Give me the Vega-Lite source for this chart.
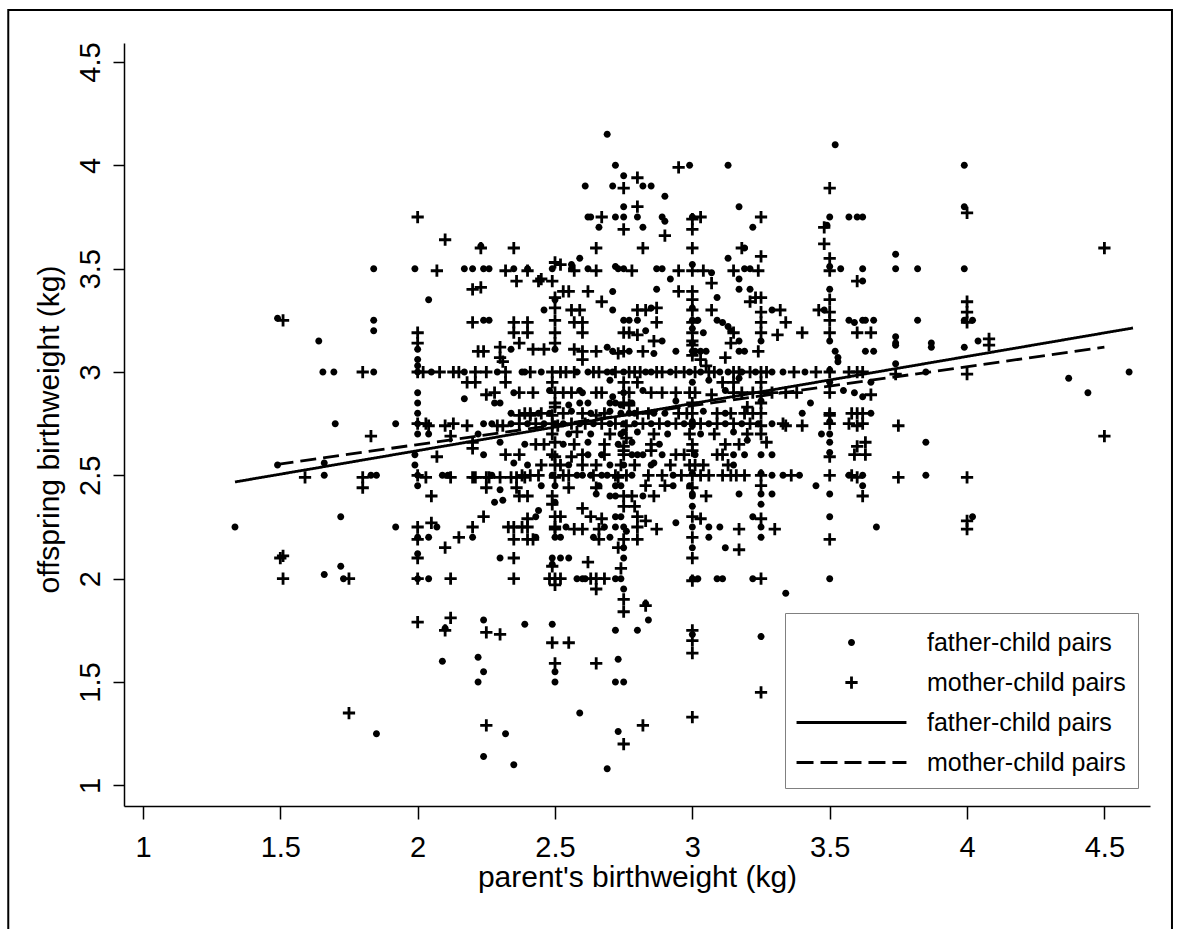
{
"$schema":"https://vega.github.io/schema/vega-lite/v6.json",
"width":1026,"height":763,
"autosize":{"type":"none"},
"padding":{"left":124,"top":43,"right":29,"bottom":123},
"background":"white",
"config":{"view":{"stroke":null},"font":"Liberation Sans"},
"datasets":{
"pts":[
{"g":"F","x":1.335,"y":2.25},{"g":"F","x":1.49,"y":3.26},{"g":"M","x":1.51,"y":3.25},{"g":"F","x":1.49,"y":2.55},{"g":"M","x":1.5,"y":2.1},{"g":"M","x":1.51,"y":2.11},{"g":"M","x":1.51,"y":2.0},{"g":"M","x":1.59,"y":2.49},{"g":"F","x":1.64,"y":3.15},{"g":"F","x":1.655,"y":3.0},{"g":"F","x":1.695,"y":3.0},{"g":"F","x":1.66,"y":2.56},{"g":"F","x":1.66,"y":2.5},{"g":"F","x":1.66,"y":2.02},{"g":"F","x":1.7,"y":2.75},{"g":"F","x":1.72,"y":2.3},{"g":"F","x":1.72,"y":2.06},{"g":"F","x":1.73,"y":2.0},{"g":"M","x":1.75,"y":2.0},{"g":"M","x":1.75,"y":1.35},{"g":"M","x":1.8,"y":3.0},{"g":"F","x":1.84,"y":3.0},{"g":"F","x":1.84,"y":3.5},{"g":"F","x":1.84,"y":3.25},{"g":"F","x":1.84,"y":3.2},{"g":"M","x":1.83,"y":2.69},{"g":"M","x":1.8,"y":2.49},{"g":"M","x":1.8,"y":2.44},{"g":"F","x":1.83,"y":2.5},{"g":"F","x":1.85,"y":2.5},{"g":"F","x":1.85,"y":1.25},{"g":"F","x":1.92,"y":2.75},{"g":"F","x":1.92,"y":2.25},{"g":"F","x":1.99,"y":3.5},
{"g":"M","x":2.0,"y":3.75},{"g":"M","x":2.0,"y":3.19},{"g":"M","x":2.0,"y":3.14},{"g":"F","x":2.0,"y":3.11},{"g":"F","x":2.0,"y":3.06},{"g":"F","x":2.0,"y":3.03},{"g":"M","x":2.0,"y":3.0},{"g":"F","x":2.0,"y":3.0},{"g":"F","x":2.0,"y":2.9},{"g":"F","x":2.0,"y":2.85},{"g":"F","x":2.0,"y":2.8},{"g":"M","x":2.0,"y":2.75},{"g":"F","x":2.0,"y":2.75},{"g":"F","x":2.0,"y":2.7},{"g":"F","x":1.99,"y":2.6},{"g":"F","x":1.99,"y":2.55},{"g":"M","x":2.0,"y":2.5},{"g":"F","x":2.0,"y":2.5},{"g":"F","x":2.0,"y":2.45},{"g":"M","x":2.0,"y":2.25},{"g":"F","x":2.0,"y":2.2},{"g":"M","x":2.0,"y":2.19},{"g":"M","x":2.0,"y":2.1},{"g":"F","x":2.0,"y":2.12},{"g":"M","x":2.0,"y":2.0},{"g":"F","x":2.0,"y":2.0},{"g":"M","x":2.0,"y":1.79},
{"g":"M","x":2.1,"y":3.64},{"g":"M","x":2.23,"y":3.6},{"g":"F","x":2.23,"y":3.61},{"g":"M","x":2.35,"y":3.6},{"g":"M","x":2.07,"y":3.49},{"g":"F","x":2.17,"y":3.5},{"g":"F","x":2.2,"y":3.5},{"g":"F","x":2.24,"y":3.5},{"g":"F","x":2.26,"y":3.5},{"g":"M","x":2.32,"y":3.49},{"g":"F","x":2.35,"y":3.5},{"g":"F","x":2.4,"y":3.5},{"g":"M","x":2.36,"y":3.44},{"g":"M","x":2.2,"y":3.4},{"g":"M","x":2.23,"y":3.41},{"g":"F","x":2.04,"y":3.35},{"g":"M","x":2.2,"y":3.24},{"g":"F","x":2.24,"y":3.25},{"g":"F","x":2.26,"y":3.25},{"g":"M","x":2.35,"y":3.24},{"g":"M","x":2.4,"y":3.24},{"g":"M","x":2.35,"y":3.19},{"g":"M","x":2.4,"y":3.19},{"g":"M","x":2.37,"y":3.14},{"g":"F","x":2.34,"y":3.11},{"g":"M","x":2.22,"y":3.1},{"g":"M","x":2.24,"y":3.1},{"g":"M","x":2.3,"y":3.12},{"g":"M","x":2.3,"y":3.07},{"g":"M","x":2.31,"y":3.05},
{"g":"M","x":2.02,"y":3.0},{"g":"F","x":2.05,"y":3.0},{"g":"M","x":2.08,"y":3.0},{"g":"M","x":2.13,"y":3.0},{"g":"M","x":2.15,"y":3.0},{"g":"F","x":2.17,"y":3.0},{"g":"M","x":2.21,"y":3.0},{"g":"M","x":2.25,"y":3.0},{"g":"F","x":2.29,"y":3.0},{"g":"M","x":2.32,"y":3.0},{"g":"F","x":2.39,"y":3.0},{"g":"M","x":2.41,"y":3.0},{"g":"M","x":2.18,"y":2.95},{"g":"M","x":2.21,"y":2.95},{"g":"M","x":2.32,"y":2.95},{"g":"F","x":2.17,"y":2.87},{"g":"M","x":2.25,"y":2.89},{"g":"M","x":2.28,"y":2.9},{"g":"F","x":2.28,"y":2.85},{"g":"F","x":2.35,"y":2.9},{"g":"M","x":2.37,"y":2.9},{"g":"F","x":2.34,"y":2.8},{"g":"M","x":2.37,"y":2.79},{"g":"M","x":2.41,"y":2.79},{"g":"M","x":2.39,"y":2.8},{"g":"F","x":2.44,"y":2.8},
{"g":"M","x":2.04,"y":2.74},{"g":"M","x":2.1,"y":2.74},{"g":"M","x":2.13,"y":2.75},{"g":"M","x":2.18,"y":2.74},{"g":"F","x":2.24,"y":2.75},{"g":"F","x":2.27,"y":2.75},{"g":"M","x":2.29,"y":2.74},{"g":"M","x":2.31,"y":2.74},{"g":"F","x":2.34,"y":2.75},{"g":"M","x":2.37,"y":2.75},{"g":"M","x":2.03,"y":2.75},{"g":"F","x":2.04,"y":2.7},{"g":"M","x":2.12,"y":2.69},{"g":"F","x":2.22,"y":2.7},{"g":"F","x":2.3,"y":2.66},{"g":"M","x":2.2,"y":2.63},{"g":"M","x":2.07,"y":2.59},{"g":"F","x":2.24,"y":2.6},{"g":"M","x":2.32,"y":2.6},{"g":"M","x":2.37,"y":2.6},{"g":"F","x":2.35,"y":2.56},{"g":"M","x":2.2,"y":2.66},{"g":"F","x":2.39,"y":2.65},
{"g":"F","x":2.09,"y":2.5},{"g":"F","x":2.11,"y":2.5},{"g":"M","x":2.12,"y":2.49},{"g":"M","x":2.2,"y":2.49},{"g":"M","x":2.21,"y":2.49},{"g":"M","x":2.25,"y":2.49},{"g":"M","x":2.26,"y":2.49},{"g":"F","x":2.27,"y":2.5},{"g":"M","x":2.3,"y":2.49},{"g":"M","x":2.34,"y":2.49},{"g":"M","x":2.36,"y":2.49},{"g":"M","x":2.39,"y":2.49},{"g":"M","x":2.03,"y":2.49},{"g":"M","x":2.25,"y":2.44},{"g":"F","x":2.3,"y":2.43},{"g":"M","x":2.36,"y":2.44},{"g":"M","x":2.37,"y":2.4},{"g":"M","x":2.4,"y":2.4},{"g":"M","x":2.05,"y":2.4},{"g":"F","x":2.28,"y":2.37},{"g":"F","x":2.31,"y":2.38},{"g":"M","x":2.24,"y":2.3},{"g":"M","x":2.05,"y":2.27},{"g":"F","x":2.07,"y":2.25},{"g":"F","x":2.04,"y":2.2},{"g":"M","x":2.15,"y":2.2},{"g":"M","x":2.2,"y":2.25},{"g":"F","x":2.2,"y":2.2},{"g":"M","x":2.1,"y":2.15},{"g":"M","x":2.33,"y":2.25},{"g":"M","x":2.35,"y":2.25},{"g":"M","x":2.35,"y":2.19},{"g":"M","x":2.4,"y":2.25},{"g":"M","x":2.4,"y":2.19},
{"g":"F","x":2.04,"y":2.0},{"g":"M","x":2.12,"y":2.0},{"g":"F","x":2.3,"y":2.1},{"g":"M","x":2.35,"y":2.1},{"g":"M","x":2.35,"y":2.0},{"g":"M","x":2.12,"y":1.81},{"g":"M","x":2.1,"y":1.75},{"g":"F","x":2.1,"y":1.76},{"g":"F","x":2.24,"y":1.8},{"g":"M","x":2.25,"y":1.74},{"g":"M","x":2.3,"y":1.73},{"g":"F","x":2.39,"y":1.78},{"g":"F","x":2.09,"y":1.6},{"g":"F","x":2.22,"y":1.62},{"g":"F","x":2.24,"y":1.55},{"g":"F","x":2.22,"y":1.5},{"g":"M","x":2.25,"y":1.29},{"g":"F","x":2.32,"y":1.25},{"g":"F","x":2.24,"y":1.14},{"g":"F","x":2.35,"y":1.1},
{"g":"F","x":2.69,"y":4.15},{"g":"F","x":2.72,"y":4.0},{"g":"F","x":2.75,"y":3.95},{"g":"M","x":2.8,"y":3.94},{"g":"F","x":2.61,"y":3.9},{"g":"F","x":2.71,"y":3.9},{"g":"M","x":2.75,"y":3.89},{"g":"F","x":2.82,"y":3.9},{"g":"F","x":2.85,"y":3.9},{"g":"M","x":2.95,"y":3.99},{"g":"F","x":2.99,"y":4.0},{"g":"F","x":3.13,"y":4.0},{"g":"F","x":2.9,"y":3.85},{"g":"F","x":2.75,"y":3.8},{"g":"M","x":2.8,"y":3.8},{"g":"F","x":3.17,"y":3.8},
{"g":"F","x":2.62,"y":3.75},{"g":"F","x":2.63,"y":3.75},{"g":"M","x":2.67,"y":3.75},{"g":"F","x":2.72,"y":3.75},{"g":"F","x":2.75,"y":3.75},{"g":"F","x":2.8,"y":3.75},{"g":"F","x":2.89,"y":3.75},{"g":"F","x":2.9,"y":3.73},{"g":"F","x":3.0,"y":3.75},{"g":"M","x":3.0,"y":3.74},{"g":"M","x":3.03,"y":3.75},{"g":"M","x":3.25,"y":3.75},{"g":"F","x":2.66,"y":3.7},{"g":"M","x":2.75,"y":3.69},{"g":"F","x":2.82,"y":3.7},{"g":"M","x":2.9,"y":3.66},{"g":"M","x":3.0,"y":3.69},{"g":"F","x":3.22,"y":3.7},{"g":"M","x":3.48,"y":3.7},{"g":"F","x":3.49,"y":3.71},{"g":"F","x":3.5,"y":3.75},{"g":"M","x":3.5,"y":3.89},{"g":"F","x":3.52,"y":4.1},{"g":"F","x":3.57,"y":3.75},{"g":"F","x":3.6,"y":3.75},{"g":"F","x":3.62,"y":3.75},{"g":"M","x":3.48,"y":3.62},
{"g":"M","x":2.65,"y":3.6},{"g":"M","x":2.82,"y":3.6},{"g":"M","x":3.0,"y":3.6},{"g":"M","x":3.18,"y":3.6},{"g":"F","x":3.19,"y":3.6},{"g":"M","x":3.25,"y":3.56},{"g":"F","x":2.59,"y":3.55},{"g":"F","x":3.13,"y":3.55},{"g":"M","x":3.5,"y":3.55},{"g":"M","x":2.5,"y":3.53},{"g":"M","x":2.52,"y":3.52},{"g":"F","x":2.56,"y":3.52},{"g":"F","x":2.56,"y":3.5},
{"g":"M","x":2.4,"y":3.49},{"g":"F","x":2.49,"y":3.5},{"g":"M","x":2.57,"y":3.49},{"g":"F","x":2.62,"y":3.5},{"g":"M","x":2.65,"y":3.49},{"g":"F","x":2.72,"y":3.51},{"g":"F","x":2.73,"y":3.5},{"g":"F","x":2.75,"y":3.5},{"g":"M","x":2.78,"y":3.49},{"g":"F","x":2.87,"y":3.5},{"g":"F","x":2.89,"y":3.5},{"g":"M","x":2.95,"y":3.49},{"g":"M","x":3.0,"y":3.49},{"g":"F","x":3.0,"y":3.52},{"g":"M","x":3.04,"y":3.49},{"g":"F","x":3.07,"y":3.48},{"g":"M","x":3.15,"y":3.49},{"g":"F","x":3.19,"y":3.5},{"g":"F","x":3.21,"y":3.5},{"g":"M","x":3.24,"y":3.49},{"g":"M","x":3.5,"y":3.49},{"g":"F","x":3.5,"y":3.51},{"g":"F","x":3.54,"y":3.5},{"g":"F","x":3.62,"y":3.5},{"g":"F","x":3.74,"y":3.5},{"g":"F","x":3.82,"y":3.5},{"g":"F","x":3.99,"y":3.5},
{"g":"M","x":2.44,"y":3.44},{"g":"M","x":2.45,"y":3.45},{"g":"M","x":2.49,"y":3.44},{"g":"M","x":2.53,"y":3.39},{"g":"M","x":2.55,"y":3.39},{"g":"M","x":2.62,"y":3.39},{"g":"F","x":2.71,"y":3.39},{"g":"F","x":2.87,"y":3.4},{"g":"F","x":2.92,"y":3.45},{"g":"M","x":2.95,"y":3.39},{"g":"M","x":3.0,"y":3.39},{"g":"M","x":3.07,"y":3.43},{"g":"F","x":3.09,"y":3.36},{"g":"F","x":3.17,"y":3.45},{"g":"F","x":3.17,"y":3.4},{"g":"F","x":3.21,"y":3.4},{"g":"M","x":3.23,"y":3.36},{"g":"M","x":3.25,"y":3.36},{"g":"M","x":3.21,"y":3.34},{"g":"M","x":3.6,"y":3.44},{"g":"F","x":3.62,"y":3.44},{"g":"F","x":3.5,"y":3.4},
{"g":"M","x":3.5,"y":3.35},{"g":"M","x":3.5,"y":3.29},{"g":"M","x":3.5,"y":3.25},{"g":"M","x":3.5,"y":3.19},{"g":"M","x":3.46,"y":3.3},{"g":"F","x":3.48,"y":3.3},{"g":"F","x":3.5,"y":3.15},{"g":"F","x":3.52,"y":3.1},{"g":"F","x":3.53,"y":3.07},{"g":"F","x":3.53,"y":3.05},
{"g":"M","x":2.5,"y":3.36},{"g":"F","x":2.5,"y":3.35},{"g":"M","x":2.5,"y":3.31},{"g":"M","x":2.5,"y":3.25},{"g":"M","x":2.5,"y":3.19},{"g":"M","x":2.5,"y":3.14},{"g":"F","x":2.5,"y":3.11},{"g":"F","x":2.46,"y":3.3},{"g":"M","x":2.56,"y":3.3},{"g":"M","x":2.59,"y":3.3},{"g":"M","x":2.57,"y":3.24},{"g":"M","x":2.6,"y":3.24},{"g":"M","x":2.6,"y":3.19},{"g":"M","x":2.67,"y":3.34},{"g":"F","x":2.71,"y":3.3},{"g":"M","x":2.8,"y":3.3},{"g":"M","x":2.83,"y":3.3},{"g":"F","x":2.85,"y":3.31},{"g":"M","x":2.87,"y":3.31},{"g":"F","x":2.75,"y":3.25},{"g":"F","x":2.77,"y":3.25},{"g":"F","x":2.8,"y":3.25},{"g":"M","x":2.87,"y":3.24},{"g":"M","x":2.75,"y":3.19},{"g":"M","x":2.77,"y":3.19},{"g":"M","x":2.8,"y":3.18},{"g":"F","x":2.83,"y":3.2},{"g":"M","x":2.86,"y":3.15},{"g":"F","x":2.89,"y":3.15},
{"g":"M","x":3.0,"y":3.35},{"g":"F","x":3.0,"y":3.31},{"g":"M","x":3.0,"y":3.3},{"g":"F","x":3.0,"y":3.25},{"g":"M","x":3.0,"y":3.24},{"g":"F","x":3.0,"y":3.21},{"g":"M","x":3.0,"y":3.19},{"g":"M","x":3.0,"y":3.15},{"g":"F","x":3.0,"y":3.14},{"g":"M","x":3.0,"y":3.13},{"g":"F","x":3.0,"y":3.1},{"g":"M","x":3.0,"y":3.08},{"g":"F","x":3.02,"y":3.25},{"g":"F","x":3.04,"y":3.19},{"g":"M","x":3.07,"y":3.3},{"g":"F","x":3.09,"y":3.25},{"g":"F","x":3.11,"y":3.24},{"g":"F","x":3.13,"y":3.22},{"g":"F","x":3.14,"y":3.2},{"g":"M","x":3.15,"y":3.19},{"g":"M","x":3.14,"y":3.14},{"g":"F","x":3.17,"y":3.15},{"g":"M","x":3.25,"y":3.29},{"g":"M","x":3.25,"y":3.24},{"g":"M","x":3.25,"y":3.19},{"g":"F","x":3.25,"y":3.15},{"g":"F","x":3.29,"y":3.3},{"g":"M","x":3.32,"y":3.3},{"g":"M","x":3.34,"y":3.24},{"g":"M","x":3.31,"y":3.18},{"g":"M","x":3.4,"y":3.19},
{"g":"F","x":3.57,"y":3.25},{"g":"F","x":3.59,"y":3.24},{"g":"M","x":3.6,"y":3.19},{"g":"F","x":3.62,"y":3.25},{"g":"F","x":3.63,"y":3.25},{"g":"F","x":3.66,"y":3.25},{"g":"M","x":3.65,"y":3.19},{"g":"F","x":3.82,"y":3.25},{"g":"F","x":3.74,"y":3.57},
{"g":"M","x":2.42,"y":3.11},{"g":"M","x":2.46,"y":3.11},{"g":"M","x":2.57,"y":3.11},{"g":"M","x":2.6,"y":3.1},{"g":"M","x":2.6,"y":3.06},{"g":"M","x":2.65,"y":3.1},{"g":"F","x":2.69,"y":3.12},{"g":"F","x":2.71,"y":3.1},{"g":"M","x":2.73,"y":3.09},{"g":"M","x":2.75,"y":3.1},{"g":"F","x":2.77,"y":3.1},{"g":"M","x":2.82,"y":3.1},{"g":"F","x":2.86,"y":3.09},{"g":"F","x":2.94,"y":3.1},{"g":"F","x":3.01,"y":3.1},{"g":"F","x":3.03,"y":3.1},{"g":"F","x":3.05,"y":3.1},{"g":"M","x":3.12,"y":3.07},{"g":"F","x":3.17,"y":3.1},{"g":"F","x":3.19,"y":3.1},{"g":"M","x":3.24,"y":3.1},{"g":"M","x":3.03,"y":3.06},{"g":"M","x":3.05,"y":3.03},
{"g":"F","x":2.38,"y":3.0},{"g":"F","x":2.45,"y":3.0},{"g":"M","x":2.49,"y":3.0},{"g":"M","x":2.52,"y":3.0},{"g":"M","x":2.54,"y":3.0},{"g":"M","x":2.57,"y":3.0},{"g":"F","x":2.58,"y":3.0},{"g":"F","x":2.62,"y":3.0},{"g":"M","x":2.64,"y":3.0},{"g":"M","x":2.66,"y":3.0},{"g":"F","x":2.69,"y":3.0},{"g":"F","x":2.71,"y":3.0},{"g":"M","x":2.72,"y":3.0},{"g":"F","x":2.75,"y":3.0},{"g":"M","x":2.77,"y":3.0},{"g":"M","x":2.79,"y":3.0},{"g":"M","x":2.81,"y":3.0},{"g":"F","x":2.83,"y":3.0},{"g":"F","x":2.85,"y":3.0},{"g":"M","x":2.87,"y":3.0},{"g":"M","x":2.89,"y":3.0},{"g":"F","x":2.92,"y":3.0},{"g":"M","x":2.94,"y":3.0},{"g":"M","x":2.97,"y":3.0},{"g":"F","x":2.99,"y":3.0},{"g":"M","x":3.01,"y":3.0},{"g":"F","x":3.03,"y":3.0},{"g":"M","x":3.06,"y":3.0},{"g":"M","x":3.08,"y":3.0},{"g":"F","x":3.1,"y":3.0},{"g":"F","x":3.13,"y":3.0},{"g":"M","x":3.15,"y":3.0},{"g":"M","x":3.17,"y":3.0},{"g":"F","x":3.18,"y":3.0},{"g":"M","x":3.21,"y":3.0},{"g":"F","x":3.23,"y":3.0},{"g":"M","x":3.25,"y":3.0},{"g":"M","x":3.27,"y":3.0},{"g":"F","x":3.29,"y":3.0},{"g":"F","x":3.33,"y":3.0},{"g":"M","x":3.37,"y":3.0},{"g":"F","x":3.41,"y":3.0},{"g":"M","x":3.45,"y":3.0},{"g":"M","x":3.5,"y":3.0},{"g":"F","x":3.5,"y":3.01},{"g":"M","x":3.57,"y":3.0},{"g":"M","x":3.6,"y":3.0},{"g":"M","x":3.62,"y":3.0},
{"g":"F","x":3.74,"y":3.04},{"g":"M","x":3.74,"y":2.99},{"g":"F","x":3.85,"y":3.0},{"g":"M","x":4.0,"y":2.99},{"g":"F","x":4.37,"y":2.97},{"g":"F","x":4.44,"y":2.9},{"g":"F","x":4.59,"y":3.0},
{"g":"F","x":3.99,"y":4.0},{"g":"F","x":3.99,"y":3.8},{"g":"M","x":4.0,"y":3.77},{"g":"M","x":4.5,"y":3.6},{"g":"M","x":4.0,"y":3.34},{"g":"M","x":4.0,"y":3.29},{"g":"F","x":3.99,"y":3.25},{"g":"F","x":4.02,"y":3.25},{"g":"M","x":4.0,"y":3.24},{"g":"F","x":3.74,"y":3.17},{"g":"F","x":3.74,"y":3.14},{"g":"F","x":3.74,"y":3.13},{"g":"F","x":3.87,"y":3.14},{"g":"F","x":3.87,"y":3.12},{"g":"M","x":4.08,"y":3.16},{"g":"M","x":4.08,"y":3.13},{"g":"F","x":4.04,"y":3.15},{"g":"F","x":3.99,"y":3.12},{"g":"F","x":3.63,"y":3.1},{"g":"F","x":3.66,"y":3.1},
{"g":"F","x":3.59,"y":2.9},{"g":"F","x":3.62,"y":2.88},{"g":"M","x":3.65,"y":2.89},{"g":"F","x":3.65,"y":2.95},{"g":"M","x":3.6,"y":2.8},{"g":"M","x":3.62,"y":2.8},{"g":"F","x":3.65,"y":2.8},{"g":"M","x":3.57,"y":2.75},{"g":"M","x":3.62,"y":2.75},{"g":"M","x":3.75,"y":2.74},{"g":"F","x":3.85,"y":2.66},{"g":"M","x":3.6,"y":2.64},{"g":"M","x":3.63,"y":2.66},{"g":"M","x":3.63,"y":2.6},{"g":"M","x":3.58,"y":2.5},{"g":"F","x":3.62,"y":2.5},{"g":"F","x":3.62,"y":2.45},{"g":"M","x":3.62,"y":2.4},{"g":"M","x":3.75,"y":2.49},{"g":"F","x":3.85,"y":2.5},{"g":"M","x":4.0,"y":2.49},{"g":"F","x":3.67,"y":2.25},{"g":"M","x":4.0,"y":2.28},{"g":"M","x":4.0,"y":2.24},{"g":"F","x":4.02,"y":2.3},{"g":"M","x":4.5,"y":2.69},
{"g":"M","x":3.5,"y":2.75},{"g":"F","x":3.5,"y":2.76},{"g":"F","x":3.47,"y":2.7},{"g":"F","x":3.5,"y":2.7},{"g":"F","x":3.5,"y":2.66},{"g":"F","x":3.5,"y":2.61},{"g":"M","x":3.5,"y":2.59},{"g":"M","x":3.59,"y":2.6},{"g":"M","x":3.5,"y":2.5},{"g":"F","x":3.5,"y":2.41},{"g":"F","x":3.5,"y":2.3},{"g":"M","x":3.5,"y":2.19},{"g":"F","x":3.5,"y":2.0},{"g":"F","x":3.57,"y":2.5},{"g":"M","x":3.6,"y":2.49},{"g":"M","x":3.5,"y":2.9},{"g":"M","x":3.5,"y":2.8},{"g":"F","x":3.43,"y":2.85},{"g":"F","x":3.5,"y":2.95},
{"g":"F","x":3.4,"y":2.8},{"g":"F","x":3.29,"y":2.75},{"g":"M","x":3.34,"y":2.74},{"g":"M","x":3.4,"y":2.74},{"g":"M","x":3.6,"y":2.74},{"g":"M","x":3.27,"y":2.66},{"g":"F","x":3.25,"y":2.6},{"g":"F","x":3.29,"y":2.6},{"g":"F","x":3.45,"y":2.45},
{"g":"M","x":2.49,"y":2.95},{"g":"F","x":2.7,"y":2.96},{"g":"M","x":2.8,"y":2.95},{"g":"F","x":3.06,"y":2.96},{"g":"M","x":3.11,"y":2.95},{"g":"M","x":3.15,"y":2.95},{"g":"F","x":3.17,"y":2.97},{"g":"M","x":2.5,"y":2.9},
{"g":"M","x":2.42,"y":2.9},{"g":"M","x":2.53,"y":2.9},{"g":"M","x":2.56,"y":2.9},{"g":"F","x":2.59,"y":2.91},{"g":"M","x":2.65,"y":2.9},{"g":"M","x":2.67,"y":2.9},{"g":"F","x":2.71,"y":2.88},{"g":"M","x":2.75,"y":2.9},{"g":"M","x":2.77,"y":2.9},{"g":"F","x":2.82,"y":2.91},{"g":"M","x":2.85,"y":2.9},{"g":"M","x":2.89,"y":2.9},{"g":"M","x":2.94,"y":2.9},{"g":"M","x":2.99,"y":2.9},{"g":"M","x":3.01,"y":2.9},{"g":"M","x":3.07,"y":2.89},{"g":"F","x":3.12,"y":2.91},{"g":"M","x":3.15,"y":2.9},{"g":"M","x":3.18,"y":2.9},{"g":"M","x":3.22,"y":2.9},{"g":"M","x":3.25,"y":2.9},{"g":"M","x":3.29,"y":2.9},{"g":"M","x":3.34,"y":2.9},{"g":"M","x":3.38,"y":2.9},{"g":"F","x":3.55,"y":2.91},{"g":"F","x":2.6,"y":2.9},{"g":"F","x":2.48,"y":2.91},{"g":"F","x":2.78,"y":2.85},
{"g":"F","x":2.55,"y":2.84},{"g":"F","x":2.59,"y":2.85},{"g":"F","x":2.62,"y":2.85},{"g":"F","x":2.74,"y":2.84},{"g":"F","x":2.7,"y":2.85},{"g":"F","x":2.72,"y":2.85},{"g":"M","x":2.77,"y":2.84},{"g":"F","x":2.94,"y":2.86},{"g":"M","x":3.2,"y":2.83},{"g":"M","x":3.25,"y":2.85},{"g":"M","x":2.5,"y":2.83},{"g":"F","x":2.3,"y":2.85},
{"g":"M","x":2.41,"y":2.8},{"g":"M","x":2.45,"y":2.8},{"g":"F","x":2.48,"y":2.8},{"g":"M","x":2.49,"y":2.79},{"g":"M","x":2.53,"y":2.8},{"g":"M","x":2.6,"y":2.8},{"g":"M","x":2.68,"y":2.8},{"g":"F","x":2.74,"y":2.8},{"g":"F","x":2.79,"y":2.8},{"g":"M","x":2.8,"y":2.8},{"g":"M","x":2.84,"y":2.8},{"g":"M","x":2.95,"y":2.8},{"g":"M","x":2.98,"y":2.8},{"g":"M","x":3.0,"y":2.8},{"g":"M","x":3.09,"y":2.8},{"g":"M","x":3.14,"y":2.8},{"g":"M","x":3.19,"y":2.8},{"g":"M","x":3.25,"y":2.8},{"g":"M","x":3.5,"y":2.79},{"g":"M","x":3.58,"y":2.8},{"g":"F","x":2.56,"y":2.81},{"g":"F","x":2.63,"y":2.8},{"g":"M","x":2.65,"y":2.79},{"g":"F","x":2.7,"y":2.81},{"g":"F","x":2.77,"y":2.8},{"g":"F","x":2.86,"y":2.8},{"g":"F","x":2.9,"y":2.8},{"g":"F","x":3.04,"y":2.81},{"g":"F","x":3.12,"y":2.8},{"g":"M","x":3.22,"y":2.8},
{"g":"F","x":2.4,"y":2.75},{"g":"M","x":2.43,"y":2.75},{"g":"F","x":2.46,"y":2.75},{"g":"M","x":2.49,"y":2.75},{"g":"M","x":2.51,"y":2.74},{"g":"F","x":2.53,"y":2.75},{"g":"M","x":2.56,"y":2.75},{"g":"F","x":2.59,"y":2.75},{"g":"M","x":2.61,"y":2.75},{"g":"F","x":2.64,"y":2.75},{"g":"M","x":2.67,"y":2.75},{"g":"F","x":2.7,"y":2.75},{"g":"M","x":2.72,"y":2.75},{"g":"F","x":2.75,"y":2.75},{"g":"M","x":2.76,"y":2.74},{"g":"F","x":2.79,"y":2.75},{"g":"M","x":2.82,"y":2.75},{"g":"F","x":2.85,"y":2.75},{"g":"M","x":2.88,"y":2.75},{"g":"F","x":2.91,"y":2.75},{"g":"M","x":2.94,"y":2.75},{"g":"F","x":2.97,"y":2.75},{"g":"M","x":3.0,"y":2.75},{"g":"F","x":3.0,"y":2.76},{"g":"M","x":3.03,"y":2.75},{"g":"F","x":3.06,"y":2.75},{"g":"M","x":3.09,"y":2.75},{"g":"F","x":3.12,"y":2.75},{"g":"M","x":3.15,"y":2.75},{"g":"F","x":3.18,"y":2.75},{"g":"M","x":3.21,"y":2.75},{"g":"F","x":3.24,"y":2.75},{"g":"M","x":3.25,"y":2.74},{"g":"M","x":3.33,"y":2.75},
{"g":"M","x":2.49,"y":2.7},{"g":"F","x":2.55,"y":2.7},{"g":"M","x":2.58,"y":2.71},{"g":"F","x":2.63,"y":2.7},{"g":"M","x":2.7,"y":2.7},{"g":"F","x":2.74,"y":2.7},{"g":"M","x":2.76,"y":2.68},{"g":"F","x":2.8,"y":2.71},{"g":"M","x":2.86,"y":2.7},{"g":"F","x":2.91,"y":2.7},{"g":"M","x":2.99,"y":2.7},{"g":"F","x":3.03,"y":2.7},{"g":"M","x":3.08,"y":2.7},{"g":"F","x":3.15,"y":2.71},{"g":"M","x":3.2,"y":2.7},
{"g":"M","x":2.43,"y":2.65},{"g":"M","x":2.46,"y":2.65},{"g":"M","x":2.5,"y":2.66},{"g":"F","x":2.53,"y":2.65},{"g":"M","x":2.57,"y":2.65},{"g":"F","x":2.62,"y":2.66},{"g":"M","x":2.68,"y":2.65},{"g":"F","x":2.73,"y":2.65},{"g":"M","x":2.75,"y":2.64},{"g":"F","x":2.78,"y":2.66},{"g":"M","x":2.85,"y":2.65},{"g":"F","x":2.88,"y":2.65},{"g":"M","x":3.0,"y":2.65},{"g":"M","x":3.12,"y":2.65},{"g":"M","x":3.17,"y":2.65},{"g":"F","x":3.2,"y":2.67},
{"g":"M","x":2.49,"y":2.6},{"g":"M","x":2.5,"y":2.59},{"g":"M","x":2.56,"y":2.59},{"g":"M","x":2.6,"y":2.6},{"g":"F","x":2.62,"y":2.6},{"g":"F","x":2.67,"y":2.6},{"g":"M","x":2.68,"y":2.6},{"g":"M","x":2.75,"y":2.6},{"g":"F","x":2.78,"y":2.6},{"g":"F","x":2.8,"y":2.6},{"g":"F","x":2.82,"y":2.6},{"g":"M","x":2.85,"y":2.62},{"g":"F","x":2.86,"y":2.56},{"g":"F","x":2.89,"y":2.6},{"g":"M","x":2.94,"y":2.6},{"g":"M","x":2.97,"y":2.6},{"g":"F","x":3.01,"y":2.6},{"g":"M","x":3.09,"y":2.6},{"g":"M","x":3.11,"y":2.6},{"g":"F","x":3.15,"y":2.6},{"g":"F","x":3.19,"y":2.6},
{"g":"F","x":2.4,"y":2.55},{"g":"M","x":2.45,"y":2.55},{"g":"M","x":2.52,"y":2.55},{"g":"F","x":2.55,"y":2.55},{"g":"M","x":2.6,"y":2.55},{"g":"M","x":2.65,"y":2.55},{"g":"F","x":2.7,"y":2.55},{"g":"M","x":2.74,"y":2.55},{"g":"M","x":2.79,"y":2.55},{"g":"F","x":2.85,"y":2.55},{"g":"M","x":2.92,"y":2.55},{"g":"M","x":2.99,"y":2.55},{"g":"M","x":3.01,"y":2.55},{"g":"M","x":3.04,"y":2.55},{"g":"F","x":3.15,"y":2.55},{"g":"M","x":3.13,"y":2.55},
{"g":"M","x":2.38,"y":2.5},{"g":"M","x":2.41,"y":2.5},{"g":"M","x":2.44,"y":2.5},{"g":"F","x":2.49,"y":2.5},{"g":"M","x":2.5,"y":2.49},{"g":"M","x":2.53,"y":2.5},{"g":"M","x":2.55,"y":2.5},{"g":"F","x":2.58,"y":2.5},{"g":"F","x":2.6,"y":2.5},{"g":"F","x":2.63,"y":2.5},{"g":"M","x":2.64,"y":2.5},{"g":"F","x":2.67,"y":2.5},{"g":"F","x":2.69,"y":2.5},{"g":"M","x":2.72,"y":2.5},{"g":"M","x":2.73,"y":2.49},{"g":"M","x":2.76,"y":2.5},{"g":"F","x":2.78,"y":2.5},{"g":"M","x":2.84,"y":2.5},{"g":"M","x":2.89,"y":2.5},{"g":"F","x":2.93,"y":2.5},{"g":"M","x":2.96,"y":2.5},{"g":"M","x":3.0,"y":2.5},{"g":"F","x":3.0,"y":2.51},{"g":"M","x":3.03,"y":2.5},{"g":"M","x":3.06,"y":2.5},{"g":"M","x":3.11,"y":2.5},{"g":"M","x":3.14,"y":2.5},{"g":"M","x":3.16,"y":2.5},{"g":"M","x":3.19,"y":2.5},{"g":"M","x":3.25,"y":2.5},{"g":"F","x":3.25,"y":2.51},{"g":"F","x":3.29,"y":2.5},{"g":"F","x":3.33,"y":2.5},{"g":"M","x":3.36,"y":2.5},{"g":"F","x":3.39,"y":2.5},
{"g":"F","x":2.45,"y":2.45},{"g":"M","x":2.55,"y":2.44},{"g":"M","x":2.65,"y":2.44},{"g":"F","x":2.66,"y":2.45},{"g":"F","x":2.72,"y":2.45},{"g":"F","x":2.74,"y":2.45},{"g":"F","x":2.99,"y":2.45},{"g":"M","x":2.83,"y":2.45},{"g":"M","x":2.9,"y":2.45},{"g":"F","x":2.93,"y":2.45},{"g":"M","x":3.0,"y":2.44},{"g":"M","x":3.25,"y":2.45},
{"g":"M","x":2.49,"y":2.4},{"g":"F","x":2.65,"y":2.41},{"g":"F","x":2.7,"y":2.4},{"g":"F","x":2.72,"y":2.4},{"g":"M","x":2.75,"y":2.4},{"g":"M","x":2.78,"y":2.4},{"g":"F","x":2.82,"y":2.4},{"g":"M","x":2.86,"y":2.4},{"g":"F","x":3.0,"y":2.41},{"g":"M","x":3.05,"y":2.4},{"g":"F","x":3.17,"y":2.41},{"g":"F","x":3.25,"y":2.41},{"g":"F","x":3.29,"y":2.41},
{"g":"M","x":2.49,"y":2.36},{"g":"F","x":2.44,"y":2.33},{"g":"M","x":2.6,"y":2.34},{"g":"M","x":2.79,"y":2.35},{"g":"F","x":3.25,"y":2.36},{"g":"F","x":3.0,"y":2.35},{"g":"F","x":2.5,"y":2.37},{"g":"M","x":2.75,"y":2.35},
{"g":"F","x":2.43,"y":2.3},{"g":"M","x":2.4,"y":2.29},{"g":"M","x":2.5,"y":2.3},{"g":"M","x":2.52,"y":2.3},{"g":"M","x":2.63,"y":2.3},{"g":"M","x":2.67,"y":2.29},{"g":"F","x":2.72,"y":2.3},{"g":"F","x":2.74,"y":2.3},{"g":"M","x":2.8,"y":2.3},{"g":"M","x":2.83,"y":2.28},{"g":"F","x":2.94,"y":2.27},{"g":"M","x":3.0,"y":2.3},{"g":"M","x":3.03,"y":2.29},{"g":"F","x":3.22,"y":2.3},{"g":"M","x":3.25,"y":2.29},
{"g":"M","x":2.38,"y":2.25},{"g":"M","x":2.5,"y":2.24},{"g":"F","x":2.54,"y":2.25},{"g":"M","x":2.57,"y":2.24},{"g":"M","x":2.6,"y":2.24},{"g":"M","x":2.66,"y":2.24},{"g":"F","x":2.68,"y":2.25},{"g":"F","x":2.72,"y":2.25},{"g":"F","x":2.75,"y":2.25},{"g":"F","x":2.76,"y":2.23},{"g":"M","x":2.8,"y":2.25},{"g":"M","x":2.87,"y":2.24},{"g":"F","x":3.0,"y":2.25},{"g":"F","x":3.06,"y":2.25},{"g":"F","x":3.1,"y":2.25},{"g":"M","x":3.17,"y":2.24},{"g":"F","x":3.25,"y":2.25},{"g":"M","x":3.3,"y":2.24},
{"g":"M","x":2.42,"y":2.19},{"g":"F","x":2.43,"y":2.2},{"g":"F","x":2.5,"y":2.2},{"g":"F","x":2.52,"y":2.2},{"g":"F","x":2.64,"y":2.2},{"g":"M","x":2.66,"y":2.19},{"g":"F","x":2.7,"y":2.2},{"g":"M","x":2.75,"y":2.19},{"g":"M","x":2.8,"y":2.19},{"g":"F","x":3.06,"y":2.2},{"g":"M","x":3.0,"y":2.2},{"g":"F","x":3.25,"y":2.2},
{"g":"F","x":2.75,"y":2.15},{"g":"M","x":2.73,"y":2.15},{"g":"F","x":3.12,"y":2.15},{"g":"M","x":3.17,"y":2.14},{"g":"F","x":3.0,"y":2.15},{"g":"M","x":3.0,"y":2.1},{"g":"F","x":2.49,"y":2.1},{"g":"F","x":2.52,"y":2.1},{"g":"F","x":2.55,"y":2.1},{"g":"M","x":2.62,"y":2.08},{"g":"M","x":2.49,"y":2.06},{"g":"F","x":2.49,"y":2.07},{"g":"M","x":2.74,"y":2.05},{"g":"F","x":2.75,"y":2.1},
{"g":"M","x":2.48,"y":2.0},{"g":"M","x":2.5,"y":2.0},{"g":"M","x":2.52,"y":2.0},{"g":"M","x":2.5,"y":1.97},{"g":"F","x":2.58,"y":2.0},{"g":"F","x":2.6,"y":2.0},{"g":"F","x":2.61,"y":2.0},{"g":"M","x":2.63,"y":2.0},{"g":"M","x":2.65,"y":2.0},{"g":"M","x":2.68,"y":2.0},{"g":"M","x":2.65,"y":1.95},{"g":"F","x":2.72,"y":2.0},{"g":"F","x":2.74,"y":2.0},{"g":"F","x":2.75,"y":1.95},{"g":"F","x":3.0,"y":2.0},{"g":"M","x":3.0,"y":1.99},{"g":"F","x":3.02,"y":2.0},{"g":"F","x":3.09,"y":2.0},{"g":"F","x":3.11,"y":2.0},{"g":"F","x":3.22,"y":2.0},{"g":"M","x":3.25,"y":2.0},
{"g":"F","x":3.34,"y":1.93},{"g":"M","x":2.75,"y":1.9},{"g":"M","x":2.75,"y":1.84},{"g":"M","x":2.83,"y":1.87},{"g":"F","x":2.83,"y":1.88},{"g":"F","x":2.84,"y":1.8},{"g":"F","x":2.49,"y":1.78},{"g":"F","x":2.72,"y":1.75},{"g":"F","x":2.8,"y":1.75},{"g":"M","x":3.0,"y":1.75},{"g":"F","x":3.0,"y":1.73},{"g":"M","x":3.0,"y":1.7},{"g":"M","x":3.0,"y":1.64},{"g":"F","x":3.25,"y":1.72},{"g":"M","x":2.49,"y":1.69},{"g":"M","x":2.55,"y":1.69},{"g":"M","x":2.5,"y":1.59},{"g":"F","x":2.5,"y":1.55},{"g":"F","x":2.5,"y":1.5},{"g":"M","x":2.65,"y":1.59},{"g":"F","x":2.73,"y":1.61},{"g":"F","x":2.72,"y":1.5},{"g":"F","x":2.75,"y":1.5},{"g":"M","x":3.25,"y":1.45},{"g":"F","x":2.59,"y":1.35},{"g":"M","x":2.82,"y":1.29},{"g":"M","x":3.0,"y":1.33},{"g":"F","x":2.73,"y":1.26},{"g":"M","x":2.75,"y":1.2},{"g":"F","x":2.69,"y":1.08},
{"g":"M","x":2.75,"y":2.95},{"g":"F","x":2.75,"y":2.9},{"g":"M","x":2.75,"y":2.85},{"g":"F","x":2.75,"y":2.71},{"g":"M","x":2.75,"y":2.62},{"g":"F","x":2.75,"y":2.55},{"g":"F","x":3.0,"y":2.95},{"g":"M","x":3.0,"y":2.85},{"g":"F","x":3.0,"y":2.74},{"g":"M","x":3.0,"y":2.62},{"g":"F","x":3.0,"y":2.4},{"g":"M","x":3.25,"y":2.95},{"g":"F","x":3.25,"y":2.86},{"g":"M","x":3.25,"y":2.7},{"g":"M","x":2.5,"y":2.85},{"g":"F","x":2.5,"y":2.75},{"g":"M","x":2.5,"y":2.55},{"g":"F","x":2.5,"y":2.45},{"g":"M","x":2.5,"y":2.25}
],
"fits":[
{"s":"F","x":1.335,"y":2.468},{"s":"F","x":4.604,"y":3.213},
{"s":"M","x":1.49,"y":2.553},{"s":"M","x":4.5,"y":3.12}
]
},
"layer":[
{
"data":{"values":[{"frame":1}]},
"mark":{"type":"rect","fill":null,"stroke":"black","strokeWidth":2,"clip":false},
"encoding":{
"x":{"datum":0.5097,"type":"quantitative","scale":{"domain":[0.931,4.666],"nice":false,"zero":false}},
"x2":{"datum":4.746},
"y":{"datum":4.7516,"type":"quantitative","scale":{"domain":[0.9,4.592],"nice":false,"zero":false}},
"y2":{"datum":0.0}
}
},
{
"data":{"name":"pts"},
"mark":{"type":"point","filled":true,"color":"black","strokeWidth":0,"size":1225,"opacity":1},
"encoding":{
"x":{"field":"x","type":"quantitative","scale":{"domain":[0.931,4.666],"nice":false,"zero":false},
 "axis":{"values":[1,1.5,2,2.5,3,3.5,4,4.5],"format":"~g","title":"parent's birthweight (kg)","grid":false,
  "labelFontSize":29,"labelFont":"Liberation Sans","labelColor":"black","labelPadding":14,"labelFlush":false,"labelOverlap":false,
  "tickSize":13,"tickColor":"black","tickWidth":1.5,"domainColor":"black","domainWidth":1.5,
  "titleFontSize":30,"titleFont":"Liberation Sans","titleFontWeight":"normal","titleColor":"black","titleBaseline":"alphabetic","titleY":80}},
"y":{"field":"y","type":"quantitative","scale":{"domain":[0.9,4.592],"nice":false,"zero":false},
 "axis":{"values":[1,1.5,2,2.5,3,3.5,4,4.5],"format":"~g","title":"offspring birthweight (kg)","grid":false,
  "labelFontSize":29,"labelFont":"Liberation Sans","labelColor":"black","labelAngle":-90,"labelAlign":"center","labelBaseline":"alphabetic","labelPadding":14,"labelFlush":false,"labelOverlap":false,
  "tickSize":11,"tickColor":"black","tickWidth":1.5,"domainColor":"black","domainWidth":1.5,
  "titleFontSize":30,"titleFont":"Liberation Sans","titleFontWeight":"normal","titleColor":"black","titleAngle":-90,"titleBaseline":"alphabetic","titleX":-66,"titleY":386}},
"shape":{"field":"g","type":"nominal",
 "scale":{"domain":["F","M","FL","ML"],
  "range":["M-0.2,0A0.2,0.2 0 1 1 0.2,0A0.2,0.2 0 1 1 -0.2,0Z",
   "M-0.35,-0.08H-0.08V-0.35H0.08V-0.08H0.35V0.08H0.08V0.35H-0.08V0.08H-0.35Z",
   "M-3.14,-0.08H3.14V0.08H-3.14Z",
   "M-3.14,-0.08H-2.17V0.08H-3.14ZM-1.77,-0.08H-0.8V0.08H-1.77ZM-0.4,-0.08H0.57V0.08H-0.4ZM0.97,-0.08H1.94V0.08H0.97ZM2.34,-0.08H3.14V0.08H2.34Z"]},
 "legend":{"title":null,"orient":"none","legendX":661,"legendY":570,"padding":12,
  "strokeColor":"#808080","fillColor":"white",
  "symbolSize":1225,"symbolStrokeWidth":0,"symbolFillColor":"black","symbolOpacity":1,
  "symbolOffset":37,"labelOffset":58,"rowPadding":9,
  "labelFontSize":25,"labelFont":"Liberation Sans","labelColor":"black","labelLimit":400,
  "labelExpr":"datum.value == 'F' || datum.value == 'FL' ? 'father-child pairs' : 'mother-child pairs'"}}
}
},
{
"data":{"name":"fits"},
"mark":{"type":"line","color":"black","strokeWidth":2.8},
"encoding":{
"x":{"field":"x","type":"quantitative","scale":{"domain":[0.931,4.666],"nice":false,"zero":false}},
"y":{"field":"y","type":"quantitative","scale":{"domain":[0.9,4.592],"nice":false,"zero":false}},
"detail":{"field":"s"},
"strokeDash":{"field":"s","type":"nominal","scale":{"domain":["F","M"],"range":[[1,0],[16,7]]},"legend":null}
}
}
]
}
